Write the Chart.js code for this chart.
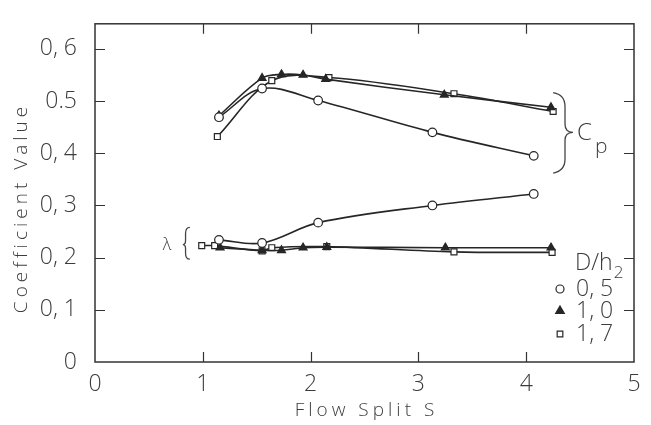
<!DOCTYPE html>
<html>
<head>
<meta charset="utf-8">
<script src="https://cdn.jsdelivr.net/npm/chart.js@4/dist/chart.umd.min.js"></script>
<style>
  html, body { margin: 0; padding: 0; background: #fff; }
  #wrap { width: 651px; height: 425px; }
</style>
</head>
<body>
<div id="wrap"><canvas id="c" width="651" height="425"></canvas></div>
<script>
// Flow split S for each measured point, per D/h2 ratio
const sHalf = [1.15, 1.55, 2.07, 3.13, 4.07];
const sOne = [1.15, 1.55, 1.73, 1.93, 2.14, 3.24, 4.23];
const sSevenCp = [1.135, 1.64, 2.17, 3.33, 4.25];
const sOneLam = [1.16, 1.55, 1.73, 1.93, 2.15, 3.25, 4.23];
const sSevenLam = [0.99, 1.11, 1.55, 1.64, 2.15, 3.33, 4.24];

// Pressure coefficient Cp
const cpHalf = [0.469, 0.524, 0.501, 0.440, 0.395];
const cpOne = [0.472, 0.544, 0.551, 0.550, 0.542, 0.512, 0.488];
const cpSeven = [0.432, 0.539, 0.545, 0.514, 0.480];

// Loss coefficient lambda
const lamHalf = [0.234, 0.228, 0.267, 0.300, 0.322];
const lamOne = [0.219, 0.214, 0.214, 0.219, 0.220, 0.219, 0.219];
const lamSeven = [0.223, 0.223, 0.213, 0.219, 0.221, 0.211, 0.210];

// Axis ticks and legend entries
const xTickValues = [0, 1, 2, 3, 4, 5];
const xTickLabels = ['0', '1', '2', '3', '4', '5'];
const yTickValues = [0, 0.1, 0.2, 0.3, 0.4, 0.5, 0.6];
const yTickLabels = ['0', '0, 1', '0, 2', '0, 3', '0, 4', '0.5', '0, 6'];
const legendLabels = ['0, 5', '1, 0', '1, 7'];

const INK = '#262626';
const TEXT = '#3c3c3c';
const FONT = '"Open Sans", "DejaVu Sans", sans-serif';

const toPoints = (xs, ys) => xs.map((x, i) => ({ x, y: ys[i] }));

const markerStyles = [
  { pointStyle: 'circle', pointRadius: 4.3, pointBackgroundColor: '#fff' },
  { pointStyle: 'triangle', pointRadius: 4.6, pointBackgroundColor: INK },
  { pointStyle: 'rect', pointRadius: 4.2, pointBackgroundColor: '#fff' }
];

function series(xs, ys, style) {
  return Object.assign({
    data: toPoints(xs, ys),
    showLine: true,
    borderColor: INK,
    borderWidth: 1.6,
    pointBorderColor: INK,
    pointBorderWidth: 1.2,
    tension: 0.35,
    fill: false
  }, style);
}

const datasets = [
  series(sHalf, cpHalf, markerStyles[0]),
  series(sOne, cpOne, markerStyles[1]),
  series(sSevenCp, cpSeven, markerStyles[2]),
  series(sHalf, lamHalf, markerStyles[0]),
  series(sOneLam, lamOne, markerStyles[1]),
  series(sSevenLam, lamSeven, markerStyles[2])
];

// Frame with inward ticks on all four sides, axis titles, braces, legend
const decorations = {
  id: 'decorations',
  afterDatasetsDraw(chart) {
    const { ctx, chartArea: a, scales: { x, y } } = chart;
    const tl = 10;
    ctx.save();
    ctx.strokeStyle = '#333';
    ctx.lineWidth = 1.5;
    ctx.strokeRect(a.left, a.top, a.right - a.left, a.bottom - a.top);
    ctx.lineWidth = 1.2;
    ctx.beginPath();
    xTickValues.slice(1, -1).forEach(v => {
      const px = Math.round(x.getPixelForValue(v)) + 0.5;
      ctx.moveTo(px, a.bottom); ctx.lineTo(px, a.bottom - tl);
      ctx.moveTo(px, a.top); ctx.lineTo(px, a.top + tl);
    });
    yTickValues.slice(1).forEach(v => {
      const py = Math.round(y.getPixelForValue(v)) + 0.5;
      ctx.moveTo(a.left, py); ctx.lineTo(a.left + tl, py);
      ctx.moveTo(a.right, py); ctx.lineTo(a.right - tl, py);
    });
    ctx.stroke();

    // axis titles
    ctx.fillStyle = TEXT;
    ctx.letterSpacing = '4px';
    ctx.font = '300 19px ' + FONT;
    ctx.textAlign = 'center';
    ctx.textBaseline = 'middle';
    ctx.fillText('Flow Split S', (a.left + a.right) / 2 + 2, 411);
    ctx.save();
    ctx.translate(22, 208);
    ctx.rotate(-Math.PI / 2);
    ctx.fillText('Coefficient Value', 0, 0);
    ctx.restore();
    ctx.letterSpacing = '0px';

    // Cp brace
    const bx0 = x.getPixelForValue(4.25), bx1 = x.getPixelForValue(4.36), bx2 = x.getPixelForValue(4.434);
    const byT = y.getPixelForValue(0.516), byM = y.getPixelForValue(0.44), byB = y.getPixelForValue(0.362);
    ctx.strokeStyle = '#444';
    ctx.lineWidth = 1.3;
    ctx.beginPath();
    ctx.moveTo(bx0, byT);
    ctx.quadraticCurveTo(bx1, byT + 2, bx1, byT + 14);
    ctx.lineTo(bx1, byM - 8);
    ctx.quadraticCurveTo(bx1, byM, bx2, byM);
    ctx.quadraticCurveTo(bx1, byM, bx1, byM + 8);
    ctx.lineTo(bx1, byB - 14);
    ctx.quadraticCurveTo(bx1, byB - 2, bx0, byB);
    ctx.stroke();
    ctx.font = '300 24px ' + FONT;
    ctx.textAlign = 'left';
    ctx.fillText('C', bx2 + 4, byM + 1);
    ctx.font = '300 21px ' + FONT;
    ctx.fillText('p', bx2 + 22, byM + 15);

    // lambda brace
    const lx0 = x.getPixelForValue(0.88), lx1 = x.getPixelForValue(0.84), lx2 = x.getPixelForValue(0.815);
    const lyT = y.getPixelForValue(0.258), lyM = y.getPixelForValue(0.225), lyB = y.getPixelForValue(0.197);
    ctx.beginPath();
    ctx.moveTo(lx0, lyT);
    ctx.quadraticCurveTo(lx1, lyT, lx1, lyT + 6);
    ctx.lineTo(lx1, lyM - 4);
    ctx.quadraticCurveTo(lx1, lyM, lx2, lyM);
    ctx.quadraticCurveTo(lx1, lyM, lx1, lyM + 4);
    ctx.lineTo(lx1, lyB - 6);
    ctx.quadraticCurveTo(lx1, lyB, lx0, lyB);
    ctx.stroke();
    ctx.font = '300 17px ' + FONT;
    ctx.textAlign = 'center';
    ctx.fillText('λ', 167, lyM + 1);

    // legend
    ctx.textAlign = 'left';
    ctx.font = '300 23px ' + FONT;
    ctx.fillText('D/h', 575, 263);
    const dw = ctx.measureText('D/h').width;
    ctx.font = '300 17px ' + FONT;
    ctx.fillText('2', 575 + dw + 1, 273);
    ctx.font = '300 23px ' + FONT;
    const rows = [289, 311, 334];
    legendLabels.forEach((lbl, i) => {
      ctx.fillStyle = TEXT;
      ctx.fillText(lbl, 576, rows[i]);
      const st = markerStyles[i];
      ctx.fillStyle = st.pointBackgroundColor;
      ctx.strokeStyle = INK;
      ctx.lineWidth = 1.2;
      Chart.helpers.drawPoint(ctx, {
        pointStyle: st.pointStyle,
        radius: i === 1 ? 5 : 4,
        borderWidth: 1.2,
        rotation: 0
      }, 560, rows[i]);
    });
    ctx.restore();
  }
};

new Chart(document.getElementById('c'), {
  type: 'scatter',
  data: { datasets },
  plugins: [decorations],
  options: {
    responsive: false,
    animation: false,
    devicePixelRatio: 1,
    layout: { padding: { top: 13, right: 17, left: 0, bottom: 0 } },
    plugins: { legend: { display: false }, tooltip: { enabled: false } },
    scales: {
      x: {
        type: 'linear', min: 0, max: 5,
        grid: { display: false },
        border: { display: false },
        afterFit(s) { s.height = 63; },
        afterBuildTicks(s) { s.ticks = xTickValues.map(v => ({ value: v })); },
        ticks: {
          padding: 1,
          color: TEXT,
          font: { family: FONT, size: 23, weight: '300' },
          maxRotation: 0,
          callback: (v) => xTickLabels[xTickValues.indexOf(v)]
        }
      },
      y: {
        type: 'linear', min: 0, max: 0.648,
        grid: { display: false },
        border: { display: false },
        afterFit(s) { s.width = 95; },
        afterBuildTicks(s) { s.ticks = yTickValues.map(v => ({ value: v })); },
        ticks: {
          padding: 10,
          color: TEXT,
          font: { family: FONT, size: 23, weight: '300' },
          callback: (v) => {
            const i = yTickValues.findIndex(t => Math.abs(t - v) < 1e-6);
            return i >= 0 ? yTickLabels[i] : '';
          }
        }
      }
    }
  }
});
</script>
</body>
</html>
